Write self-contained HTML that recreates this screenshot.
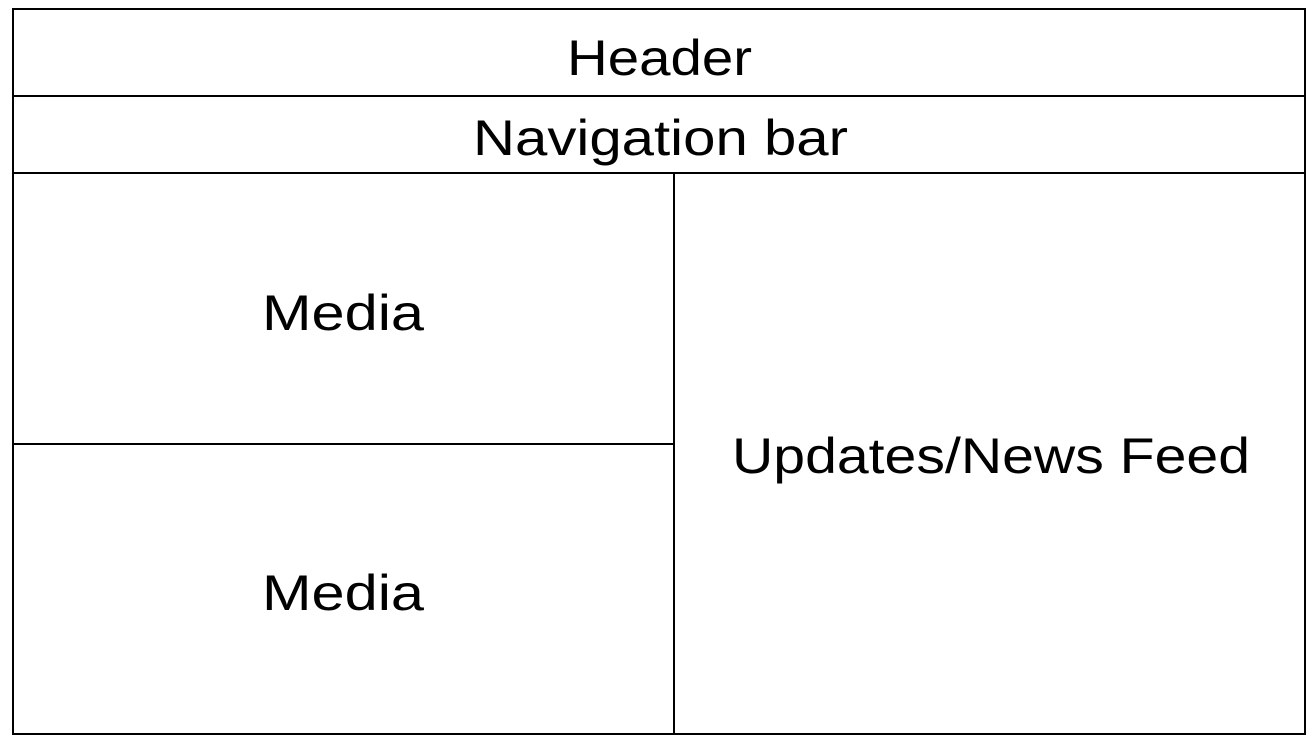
<!DOCTYPE html>
<html><head><style>html,body{margin:0;padding:0;background:#fff;}</style></head>
<body>
<svg width="1315" height="737" viewBox="0 0 1315 737" xmlns="http://www.w3.org/2000/svg">
<rect x="0" y="0" width="1315" height="737" fill="#fff"/>
<g stroke="#000" stroke-width="2" fill="none">
<rect x="13" y="9" width="1292" height="725"/>
<line x1="13" y1="96" x2="1305" y2="96"/>
<line x1="13" y1="173" x2="1305" y2="173"/>
<line x1="674" y1="173" x2="674" y2="734"/>
<line x1="13" y1="444" x2="674" y2="444"/>
</g>
<g font-family="Liberation Sans, sans-serif" font-size="50" fill="#000">
<text x="567" y="75" textLength="185" lengthAdjust="spacingAndGlyphs">Header</text>
<text x="473" y="155" textLength="375" lengthAdjust="spacingAndGlyphs">Navigation bar</text>
<text x="262" y="330" textLength="162" lengthAdjust="spacingAndGlyphs">Media</text>
<text x="262" y="610" textLength="162" lengthAdjust="spacingAndGlyphs">Media</text>
<text x="732" y="473" textLength="518" lengthAdjust="spacingAndGlyphs">Updates/News Feed</text>
</g>
</svg>
</body></html>
